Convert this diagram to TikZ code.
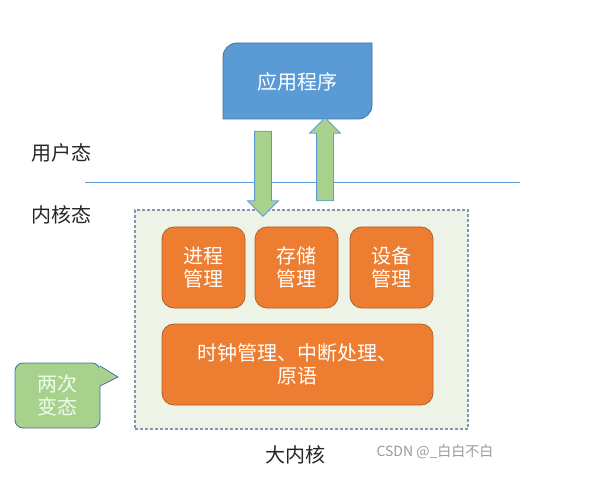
\documentclass[tikz,border=0pt]{standalone}
\usepackage{fontspec}
\newfontfamily\cjk{Noto Sans CJK SC}
\usetikzlibrary{shapes.arrows, positioning}
\definecolor{appblue}{HTML}{5B9BD5}
\definecolor{appedge}{HTML}{41719C}
\definecolor{arrgreen}{HTML}{A9D18E}
\definecolor{kernfill}{HTML}{EEF3E7}
\definecolor{kernedge}{HTML}{8497B0}
\definecolor{modorange}{HTML}{ED7D31}
\definecolor{modedge}{HTML}{B0612A}
\definecolor{wmark}{HTML}{9A9A9A}

\begin{document}
\begin{tikzpicture}[x=1pt, y=-1pt,
  label/.style={font=\cjk\fontsize{20}{24}\selectfont, text=black!85},
  module/.style={draw=modedge, fill=modorange, rounded corners=12, line width=0.8pt,
    text=white, align=center, font=\cjk\fontsize{20}{23.5}\selectfont},
  fatarrow/.style={single arrow, draw=appblue, fill=arrgreen, line width=0.8pt,
    minimum width=30, inner sep=8, single arrow head extend=7}]
  \useasboundingbox (0,0) rectangle (600,489);
  % application (user mode)
  \draw[fill=appblue, draw=appedge, line width=0.8pt]
    (223,119) -- (223,57) arc[start angle=180, end angle=270, radius=14]
    -- (372,43) -- (372,105) arc[start angle=0, end angle=90, radius=14] -- cycle;
  \node[font=\cjk\fontsize{20}{24}\selectfont, text=white] (app) at (297,82) {应用程序};
  % boundary between the modes
  \draw[appblue, line width=0.8pt] (85,182) -- (520,182);
  \node[label] (user) at (61,153) {用户态};
  \node[label] (kmode) at (61,215) {内核态};
  % kernel
  \node[draw=kernedge, fill=kernfill, dash pattern=on 3pt off 2pt, line width=1.2pt,
    minimum width=333, minimum height=219] (kernel) at (301.5,319.5) {};
  % top row
  \node[module, minimum width=83, minimum height=81] (proc) at (203.5,267.5) {进程\\管理};
  \node[module, minimum width=83, minimum height=81] (mem) at (296.5,267.5) {存储\\管理};
  \node[module, minimum width=83, minimum height=81] (dev) at (391.5,267.5) {设备\\管理};
  % bottom row
  \node[module, minimum width=271, minimum height=81] (clock) at (297.5,364.5)
    {时钟管理、中断处理、\\原语};
  % mode switches
  \node[fatarrow, rotate=-90, minimum height=85] (down) at (263,169.5) {};
  \node[fatarrow, rotate=90, minimum height=83] (up) at (325,163.5) {};
  % callout
  \node[draw=appedge, fill=arrgreen, rounded corners=8, line width=0.8pt,
    minimum width=85, minimum height=65, text=white!92!green, align=center,
    font=\cjk\fontsize{20}{23}\selectfont] (twice) at (57.5,395.5) {两次\\变态};
  \fill[arrgreen] (99,366) -- (118,377) -- (99,386) -- cycle;
  \draw[appedge, line width=0.8pt, line join=round] (100,366) -- (118,377) -- (100,386);
  % captions
  \node[label] (big) at (295,455) {大内核};
  \node[font=\cjk\fontsize{14}{16}\selectfont, text=wmark] (csdn) at (435,452) {CSDN @\_白白不白};
\end{tikzpicture}
\end{document}
